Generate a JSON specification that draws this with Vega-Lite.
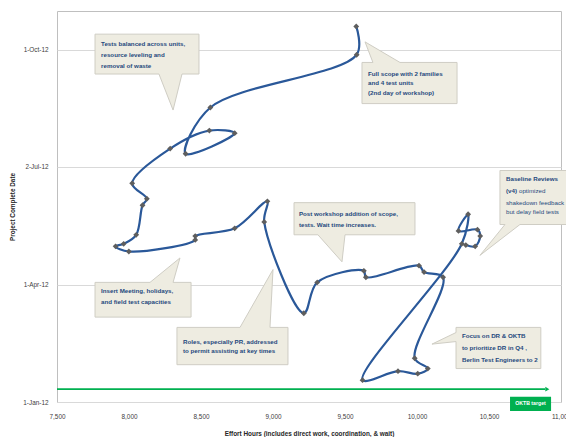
{
  "$schema": "https://vega.github.io/schema/vega-lite/v6.json",
  "width": 504,
  "height": 391,
  "autosize": {"type": "none"},
  "padding": {"left": 57, "top": 11, "right": 5, "bottom": 35},
  "background": "white",
  "config": {
    "font": "Liberation Sans",
    "view": {"stroke": "#bfbfbf", "strokeWidth": 1},
    "axis": {
      "labelFont": "Liberation Sans",
      "titleFont": "Liberation Sans",
      "labelFontSize": 6.4,
      "titleFontSize": 6.4,
      "labelColor": "#404040",
      "titleColor": "#262626",
      "titleFontWeight": "bold",
      "labelFlush": false,
      "domain": false,
      "ticks": false,
      "tickSize": 0
    }
  },
  "datasets": {
    "path": [
      {"seq": 1, "x": 9578, "d": "2012-10-19"},
      {"seq": 2, "x": 9581, "d": "2012-09-27"},
      {"seq": 3, "x": 8565, "d": "2012-08-17"},
      {"seq": 4, "x": 8393, "d": "2012-07-12"},
      {"seq": 5, "x": 8734, "d": "2012-07-28"},
      {"seq": 6, "x": 8558, "d": "2012-07-30"},
      {"seq": 7, "x": 8286, "d": "2012-07-16"},
      {"seq": 8, "x": 8022, "d": "2012-06-19"},
      {"seq": 9, "x": 8124, "d": "2012-06-07"},
      {"seq": 10, "x": 8094, "d": "2012-06-02"},
      {"seq": 11, "x": 8050, "d": "2012-05-10"},
      {"seq": 12, "x": 7963, "d": "2012-05-03"},
      {"seq": 13, "x": 7907, "d": "2012-05-01"},
      {"seq": 14, "x": 7999, "d": "2012-04-27"},
      {"seq": 15, "x": 8460, "d": "2012-05-06"},
      {"seq": 16, "x": 8460, "d": "2012-05-09"},
      {"seq": 17, "x": 8734, "d": "2012-05-15"},
      {"seq": 18, "x": 8961, "d": "2012-06-05"},
      {"seq": 19, "x": 8939, "d": "2012-05-20"},
      {"seq": 20, "x": 9214, "d": "2012-03-10"},
      {"seq": 21, "x": 9307, "d": "2012-04-03"},
      {"seq": 22, "x": 9631, "d": "2012-04-12"},
      {"seq": 23, "x": 9645, "d": "2012-04-07"},
      {"seq": 24, "x": 10014, "d": "2012-04-16"},
      {"seq": 25, "x": 10049, "d": "2012-04-11"},
      {"seq": 26, "x": 10181, "d": "2012-04-07"},
      {"seq": 27, "x": 9984, "d": "2012-02-04"},
      {"seq": 28, "x": 10075, "d": "2012-01-27"},
      {"seq": 29, "x": 10005, "d": "2012-01-23"},
      {"seq": 30, "x": 9868, "d": "2012-01-25"},
      {"seq": 31, "x": 9622, "d": "2012-01-18"},
      {"seq": 32, "x": 10311, "d": "2012-05-03"},
      {"seq": 33, "x": 10355, "d": "2012-05-26"},
      {"seq": 34, "x": 10288, "d": "2012-05-13"},
      {"seq": 35, "x": 10420, "d": "2012-05-14"},
      {"seq": 36, "x": 10439, "d": "2012-05-09"},
      {"seq": 37, "x": 10404, "d": "2012-05-01"},
      {"seq": 38, "x": 10339, "d": "2012-05-02"}
    ],
    "callouts": [
      {"id": "c1", "i": 0, "x": 7764, "d": "2012-10-13"},
      {"id": "c1", "i": 1, "x": 8486, "d": "2012-10-13"},
      {"id": "c1", "i": 2, "x": 8486, "d": "2012-09-12"},
      {"id": "c1", "i": 3, "x": 8368, "d": "2012-09-12"},
      {"id": "c1", "i": 4, "x": 8306, "d": "2012-08-15"},
      {"id": "c1", "i": 5, "x": 8208, "d": "2012-09-12"},
      {"id": "c1", "i": 6, "x": 7764, "d": "2012-09-12"},
      {"id": "c1", "i": 7, "x": 7764, "d": "2012-10-13"},
      {"id": "c2", "i": 0, "x": 9618, "d": "2012-09-21"},
      {"id": "c2", "i": 1, "x": 9694, "d": "2012-09-21"},
      {"id": "c2", "i": 2, "x": 9639, "d": "2012-10-07"},
      {"id": "c2", "i": 3, "x": 9882, "d": "2012-09-21"},
      {"id": "c2", "i": 4, "x": 10278, "d": "2012-09-21"},
      {"id": "c2", "i": 5, "x": 10278, "d": "2012-08-20"},
      {"id": "c2", "i": 6, "x": 9618, "d": "2012-08-20"},
      {"id": "c2", "i": 7, "x": 9618, "d": "2012-09-21"},
      {"id": "c3", "i": 0, "x": 10576, "d": "2012-06-29"},
      {"id": "c3", "i": 1, "x": 11097, "d": "2012-06-29"},
      {"id": "c3", "i": 2, "x": 11097, "d": "2012-05-18"},
      {"id": "c3", "i": 3, "x": 10715, "d": "2012-05-18"},
      {"id": "c3", "i": 4, "x": 10437, "d": "2012-04-24"},
      {"id": "c3", "i": 5, "x": 10611, "d": "2012-05-18"},
      {"id": "c3", "i": 6, "x": 10576, "d": "2012-05-18"},
      {"id": "c3", "i": 7, "x": 10576, "d": "2012-06-29"},
      {"id": "c4", "i": 0, "x": 9146, "d": "2012-06-04"},
      {"id": "c4", "i": 1, "x": 9986, "d": "2012-06-04"},
      {"id": "c4", "i": 2, "x": 9986, "d": "2012-05-10"},
      {"id": "c4", "i": 3, "x": 9500, "d": "2012-05-10"},
      {"id": "c4", "i": 4, "x": 9479, "d": "2012-04-19"},
      {"id": "c4", "i": 5, "x": 9312, "d": "2012-05-10"},
      {"id": "c4", "i": 6, "x": 9146, "d": "2012-05-10"},
      {"id": "c4", "i": 7, "x": 9146, "d": "2012-06-04"},
      {"id": "c5", "i": 0, "x": 7764, "d": "2012-04-03"},
      {"id": "c5", "i": 1, "x": 8146, "d": "2012-04-03"},
      {"id": "c5", "i": 2, "x": 8354, "d": "2012-04-22"},
      {"id": "c5", "i": 3, "x": 8306, "d": "2012-04-03"},
      {"id": "c5", "i": 4, "x": 8431, "d": "2012-04-03"},
      {"id": "c5", "i": 5, "x": 8431, "d": "2012-03-07"},
      {"id": "c5", "i": 6, "x": 7764, "d": "2012-03-07"},
      {"id": "c5", "i": 7, "x": 7764, "d": "2012-04-03"},
      {"id": "c6", "i": 0, "x": 8333, "d": "2012-02-28"},
      {"id": "c6", "i": 1, "x": 8771, "d": "2012-02-28"},
      {"id": "c6", "i": 2, "x": 9000, "d": "2012-04-13"},
      {"id": "c6", "i": 3, "x": 8979, "d": "2012-02-28"},
      {"id": "c6", "i": 4, "x": 9104, "d": "2012-02-28"},
      {"id": "c6", "i": 5, "x": 9104, "d": "2012-01-30"},
      {"id": "c6", "i": 6, "x": 8333, "d": "2012-01-30"},
      {"id": "c6", "i": 7, "x": 8333, "d": "2012-02-28"},
      {"id": "c7", "i": 0, "x": 10271, "d": "2012-02-28"},
      {"id": "c7", "i": 1, "x": 10860, "d": "2012-02-28"},
      {"id": "c7", "i": 2, "x": 10860, "d": "2012-01-27"},
      {"id": "c7", "i": 3, "x": 10271, "d": "2012-01-27"},
      {"id": "c7", "i": 4, "x": 10271, "d": "2012-02-17"},
      {"id": "c7", "i": 5, "x": 10104, "d": "2012-02-15"},
      {"id": "c7", "i": 6, "x": 10271, "d": "2012-02-24"},
      {"id": "c7", "i": 7, "x": 10271, "d": "2012-02-28"}
    ],
    "notes": [
      {"x": 7806, "d": "2012-10-05", "t": "Tests balanced across units,", "w": "bold"},
      {"x": 7806, "d": "2012-09-27", "t": "resource leveling and", "w": "bold"},
      {"x": 7806, "d": "2012-09-18", "t": "removal of waste", "w": "bold"},
      {"x": 9660, "d": "2012-09-12", "t": "Full scope with 2 families", "w": "bold"},
      {"x": 9660, "d": "2012-09-05", "t": "and 4 test units", "w": "bold"},
      {"x": 9660, "d": "2012-08-28", "t": "(2nd day of workshop)", "w": "bold"},
      {"x": 10618, "d": "2012-06-22", "t": "Baseline Reviews", "w": "bold"},
      {"x": 10618, "d": "2012-06-13", "t": "(v4)", "w": "bold"},
      {"x": 10708, "d": "2012-06-13", "t": "optimized", "w": "normal"},
      {"x": 10618, "d": "2012-06-04", "t": "shakedown feedback", "w": "normal"},
      {"x": 10618, "d": "2012-05-28", "t": "but delay field tests", "w": "normal"},
      {"x": 9180, "d": "2012-05-26", "t": "Post workshop addition of scope,", "w": "bold"},
      {"x": 9180, "d": "2012-05-18", "t": "tests.   Wait time increases.", "w": "bold"},
      {"x": 7806, "d": "2012-03-27", "t": "Insert Meeting, holidays,", "w": "bold"},
      {"x": 7806, "d": "2012-03-19", "t": "and field test capacities", "w": "bold"},
      {"x": 8375, "d": "2012-02-17", "t": "Roles, especially PR, addressed", "w": "bold"},
      {"x": 8375, "d": "2012-02-10", "t": "to permit assisting at key times", "w": "bold"},
      {"x": 10312, "d": "2012-02-21", "t": "Focus on DR & OKTB", "w": "bold"},
      {"x": 10312, "d": "2012-02-12", "t": "to prioritize DR in Q4 ,", "w": "bold"},
      {"x": 10312, "d": "2012-02-03", "t": "Berlin Test Engineers to 2", "w": "bold"}
    ],
    "arrow": [
      {"x": 7500, "d": "2012-01-11"},
      {"x": 10890, "d": "2012-01-11"}
    ],
    "arrowhead": [
      {"x": 10905, "d": "2012-01-11"}
    ],
    "target": [
      {"x": 10646, "x2": 10931, "d": "2012-01-05", "d2": "2011-12-25", "mx": 10788, "md": "2011-12-31", "t": "OKTB target"}
    ]
  },
  "encoding": {
    "x": {
      "field": "x",
      "type": "quantitative",
      "scale": {"domain": [7500, 11000], "nice": false, "zero": false},
      "axis": {
        "values": [7500, 8000, 8500, 9000, 9500, 10000, 10500, 11000],
        "format": ",.0f",
        "grid": false,
        "labelPadding": 11,
        "title": "Effort  Hours (includes direct work, coordination, & wait)",
        "titlePadding": 11
      }
    },
    "y": {
      "field": "d",
      "type": "temporal",
      "scale": {
        "type": "utc",
        "nice": false,
        "domain": [
          {"year": 2012, "month": 1, "date": 1, "utc": true},
          {"year": 2012, "month": 10, "date": 31, "utc": true}
        ]
      },
      "axis": {
        "values": [
          {"year": 2012, "month": 1, "date": 1, "utc": true},
          {"year": 2012, "month": 4, "date": 1, "utc": true},
          {"year": 2012, "month": 7, "date": 2, "utc": true},
          {"year": 2012, "month": 10, "date": 1, "utc": true}
        ],
        "format": "%-d-%b-%y",
        "grid": true,
        "gridColor": "#d9d9d9",
        "labelPadding": 9,
        "title": "Project Complete Date",
        "titlePadding": 7
      }
    }
  },
  "layer": [
    {
      "data": {"name": "arrow"},
      "mark": {"type": "line", "color": "#00b050", "strokeWidth": 1.6},
      "encoding": {}
    },
    {
      "data": {"name": "arrowhead"},
      "mark": {"type": "point", "shape": "triangle-right", "filled": true, "color": "#00b050", "size": 22, "opacity": 1},
      "encoding": {}
    },
    {
      "data": {"name": "path"},
      "mark": {"type": "line", "interpolate": "catmull-rom", "color": "#2a5899", "strokeWidth": 2.2},
      "encoding": {"order": {"field": "seq", "type": "quantitative"}}
    },
    {
      "data": {"name": "path"},
      "mark": {"type": "point", "shape": "diamond", "filled": true, "color": "#5e5e5e", "size": 34, "opacity": 1},
      "encoding": {}
    },
    {
      "data": {"name": "callouts"},
      "mark": {"type": "line", "interpolate": "linear", "fill": "#eeece1", "stroke": "#cfcdc4", "strokeWidth": 1},
      "encoding": {
        "order": {"field": "i", "type": "quantitative"},
        "detail": {"field": "id", "type": "nominal"}
      }
    },
    {
      "data": {"name": "notes"},
      "transform": [{"filter": "datum.w == 'bold'"}],
      "mark": {"type": "text", "align": "left", "baseline": "middle", "font": "Liberation Sans", "fontSize": 6.2, "fontWeight": "bold", "color": "#1f497d"},
      "encoding": {"text": {"field": "t", "type": "nominal"}}
    },
    {
      "data": {"name": "notes"},
      "transform": [{"filter": "datum.w == 'normal'"}],
      "mark": {"type": "text", "align": "left", "baseline": "middle", "font": "Liberation Sans", "fontSize": 6.2, "fontWeight": "normal", "color": "#1f497d"},
      "encoding": {"text": {"field": "t", "type": "nominal"}}
    },
    {
      "data": {"name": "target"},
      "mark": {"type": "rect", "color": "#00b050", "opacity": 1},
      "encoding": {
        "x2": {"field": "x2"},
        "y2": {"field": "d2"}
      }
    },
    {
      "data": {"name": "target"},
      "mark": {"type": "text", "align": "center", "baseline": "middle", "font": "Liberation Sans", "fontSize": 5.2, "fontWeight": "bold", "color": "white"},
      "encoding": {
        "x": {"field": "mx", "type": "quantitative"},
        "y": {"field": "md", "type": "temporal"},
        "text": {"field": "t", "type": "nominal"}
      }
    }
  ]
}
